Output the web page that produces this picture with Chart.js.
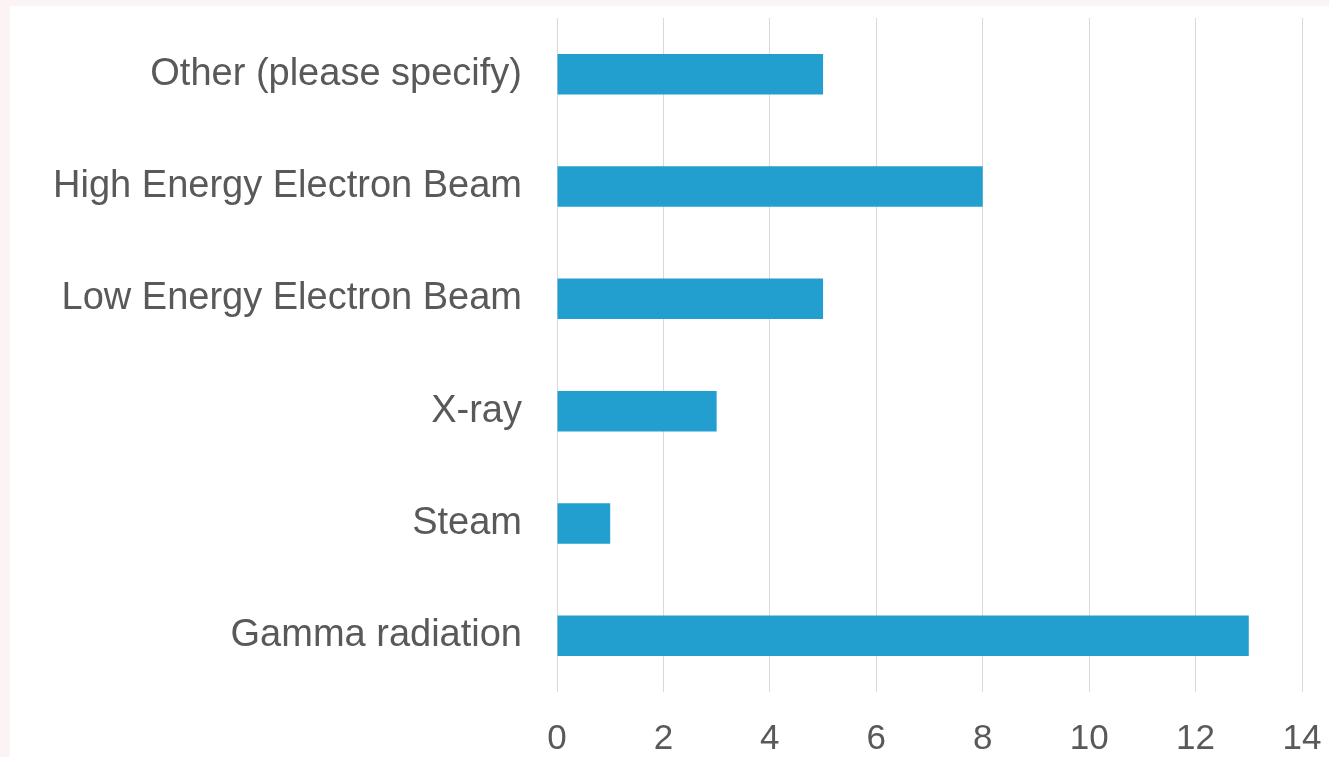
<!DOCTYPE html>
<html>
<head>
<meta charset="utf-8">
<script src="https://cdn.jsdelivr.net/npm/chart.js@4/dist/chart.umd.min.js"></script>
<style>
  html, body { margin: 0; padding: 0; background: #fcf4f4; }
  #wrap { position: absolute; left: 10px; top: 6px; width: 1319px; height: 751px; background: #ffffff; }
</style>
</head>
<body>
<div id="wrap"><canvas id="methodChart" width="1319" height="751"></canvas></div>
<script>
"use strict";

const categories = [
  "Other (please specify)",
  "High Energy Electron Beam",
  "Low Energy Electron Beam",
  "X-ray",
  "Steam",
  "Gamma radiation",
];
const counts = [5, 8, 5, 3, 1, 13];
const xTicks = [0, 2, 4, 6, 8, 10, 12, 14];

const ctx = document.querySelector("canvas#methodChart");
const chart = new Chart(ctx, {
  type: "bar",
  data: {
    labels: categories,
    datasets: [
      {
        data: counts,
        backgroundColor: "#229fcf",
        categoryPercentage: 1,
        barPercentage: 0.36,
      },
    ],
  },
  options: {
    indexAxis: "y",
    responsive: false,
    animation: false,
    layout: { padding: { left: 0, right: 27, top: 12, bottom: 0 } },
    plugins: {
      legend: { display: false },
      tooltip: { enabled: false },
    },
    scales: {
      x: {
        min: xTicks[0],
        max: xTicks[xTicks.length - 1],
        afterBuildTicks: (axis) => {
          axis.ticks = xTicks.map((v) => ({ value: v }));
        },
        afterFit: (axis) => {
          axis.height = 65;
          axis.paddingLeft = 0;
          axis.paddingRight = 0;
        },
        grid: { color: "#d9d9d9", lineWidth: 1, drawTicks: false },
        border: { display: false },
        ticks: {
          color: "#595959",
          padding: 26,
          font: { family: "'Liberation Sans', Arial, sans-serif", size: 35 },
        },
      },
      y: {
        afterFit: (axis) => {
          axis.width = 547;
          axis.paddingTop = 0;
          axis.paddingBottom = 0;
        },
        grid: { display: false, drawTicks: false },
        border: { display: false },
        ticks: {
          color: "#595959",
          padding: 35,
          font: { family: "'Liberation Sans', Arial, sans-serif", size: 38 },
        },
      },
    },
  },
});
</script>
</body>
</html>
